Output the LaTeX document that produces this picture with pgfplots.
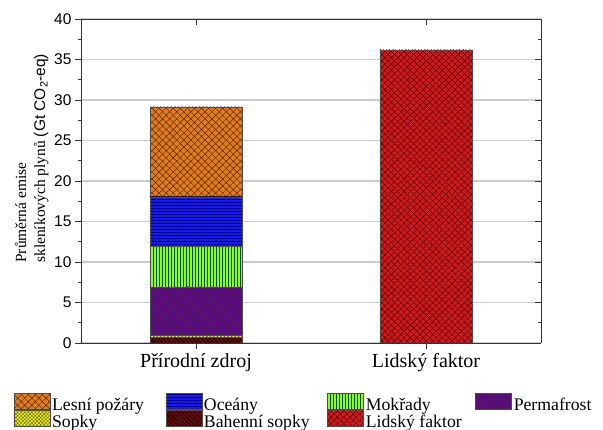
\documentclass[border=0pt]{standalone}
\usepackage{fontspec}
\setmainfont{Liberation Serif}
\newfontfamily\arial{Liberation Sans}
\usepackage{pgfplots}
\pgfplotsset{compat=1.18}
\usetikzlibrary{patterns,patterns.meta}

\definecolor{cOrange}{RGB}{226,122,30}
\definecolor{cBlue}{RGB}{24,24,240}
\definecolor{cGreen}{RGB}{138,250,40}
\definecolor{cPurple}{RGB}{90,12,124}
\definecolor{cYellow}{RGB}{240,240,40}
\definecolor{cDarkRed}{RGB}{100,8,8}
\definecolor{cRed}{RGB}{214,22,26}

\tikzset{
  sLesni/.style={fill=cOrange, draw=black!70, postaction={pattern={Hatch[angle=45,distance=5pt,line width=0.45pt]}, pattern color=cOrange!35!black}},
  sOceany/.style={fill=cBlue, draw=black!70, postaction={pattern={Lines[angle=0,distance=3pt,line width=0.6pt]}, pattern color=blue!40!black}},
  sMokrady/.style={fill=cGreen, draw=black!70, postaction={pattern={Lines[angle=90,distance=3pt,line width=0.6pt]}, pattern color=green!30!black}},
  sPerma/.style={fill=cPurple, draw=black!70, postaction={pattern={Lines[angle=-45,distance=9pt,line width=0.5pt]}, pattern color=black!80}},
  sSopky/.style={fill=cYellow, draw=black!70, postaction={pattern={Hatch[angle=45,distance=2.5pt,line width=0.4pt]}, pattern color=olive!80!black}},
  sBahenni/.style={fill=cDarkRed, draw=black!70, postaction={pattern={Lines[angle=-45,distance=3pt,line width=0.5pt]}, pattern color=black}},
  sLidsky/.style={fill=cRed, draw=black!70, postaction={pattern={Hatch[angle=45,distance=4.5pt,line width=0.45pt]}, pattern color=cRed!30!black}},
}

\begin{document}
\begin{tikzpicture}
\pgfplotsset{
  common/.style={
    scale only axis, width=460pt, height=324pt,
    xmin=-0.5, xmax=1.5, ymin=0, ymax=40,
    xtick={0,1}, ytick={0,5,...,40}, minor y tick num=1,
    major tick length=6pt, minor tick length=3pt,
    axis line style={black!80, line width=0.9pt},
    every tick/.style={black!80, line width=0.9pt},
    every minor tick/.style={black!80, line width=0.7pt},
  }
}
\begin{axis}[common,
  axis x line*=bottom, axis y line*=left,
  tick align=outside,
  xticklabels={Přírodní zdroj, Lidský faktor},
  xticklabel style={font=\fontsize{20}{22}\selectfont, yshift=-1pt},
  yticklabel style={font=\arial\fontsize{15.5}{17}\selectfont},
  /pgf/number format/assume math mode=true,
  ymajorgrids, grid style={black!20, line width=1.2pt},
  ylabel={\fontsize{15.5}{19}\selectfont\begin{tabular}{@{}l@{}}Průměrná emise\\skleníkových plynů {\arial(Gt CO\textsubscript{2}-eq)}\end{tabular}},
  ylabel style={inner sep=0pt,
    at={(axis description cs:-0.0652,0.247)}, anchor=south west},
  ybar stacked, bar width=92pt,
  legend columns=4,
  legend style={at={(axis description cs:0,0)}, anchor=north west, xshift=-67.5pt, yshift=-50pt,
    draw=none, fill=none, inner sep=0pt, font=\fontsize{17.7}{19}\selectfont,
    nodes={inner xsep=2pt, inner ysep=0pt, text height=13pt, text depth=4pt},
    row sep=-5pt,
    /tikz/every even column/.append style={column sep=4.5pt},
    /tikz/every odd column/.append style={column sep=0pt}},
  legend image code/.code={\draw[#1] (0pt,-3pt) rectangle (36pt,13pt);},
  legend cell align=left,
]
\addplot[sBahenni, forget plot] coordinates {(0,0.7) (1,0)};
\addplot[sSopky, forget plot] coordinates {(0,0.25) (1,0)};
\addplot[sPerma, forget plot] coordinates {(0,6.0) (1,0)};
\addplot[sMokrady, forget plot] coordinates {(0,4.95) (1,0)};
\addplot[sOceany, forget plot] coordinates {(0,6.15) (1,0)};
\addplot[sLesni, forget plot] coordinates {(0,11.1) (1,0)};
\addplot[sLidsky, forget plot] coordinates {(0,0) (1,36.2)};
\addlegendimage{sLesni}\addlegendentry{\makebox[107pt][l]{Lesní požáry}}
\addlegendimage{sOceany}\addlegendentry{\makebox[117pt][l]{Oceány}}
\addlegendimage{sMokrady}\addlegendentry{\makebox[103pt][l]{Mokřady}}
\addlegendimage{sPerma}\addlegendentry{Permafrost}
\addlegendimage{sSopky}\addlegendentry{Sopky}
\addlegendimage{sBahenni}\addlegendentry{Bahenní sopky}
\addlegendimage{sLidsky}\addlegendentry{Lidský faktor}
\end{axis}
\begin{axis}[common,
  axis x line*=top, axis y line*=right,
  tick align=inside,
  xticklabels={}, yticklabels={},
]
\end{axis}
\pgfresetboundingbox
\path (-81pt,-87pt) rectangle (522pt,343pt);
\end{tikzpicture}
\end{document}
